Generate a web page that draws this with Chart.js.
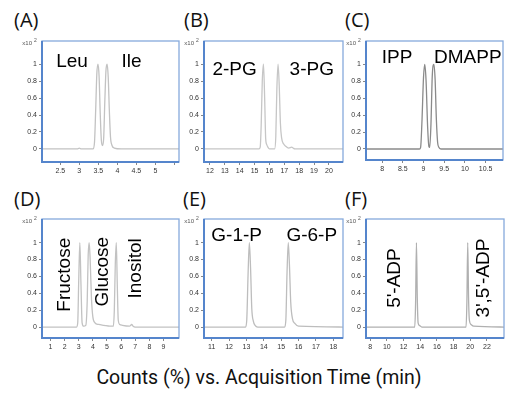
<!DOCTYPE html>
<html><head><meta charset="utf-8">
<script src="https://cdn.jsdelivr.net/npm/chart.js@4"></script>
<style>
html,body{margin:0;padding:0;background:#fff;}
body{width:530px;height:399px;position:relative;overflow:hidden;}
canvas{position:absolute;}
.ptitle{position:absolute;font-family:'Open Sans';font-size:20px;color:#111;line-height:1;white-space:nowrap;}
#xtitle{position:absolute;left:0;width:518px;top:368px;text-align:center;font-family:Roboto;font-size:19.5px;line-height:1;color:#111;}
</style></head><body>
<div class="ptitle" style="left:14px;top:10px">(A)</div>
<div class="ptitle" style="left:184px;top:10px">(B)</div>
<div class="ptitle" style="left:345px;top:10px">(C)</div>
<div class="ptitle" style="left:14px;top:189px">(D)</div>
<div class="ptitle" style="left:183px;top:189px">(E)</div>
<div class="ptitle" style="left:345px;top:189px">(F)</div>
<canvas id="cA"></canvas><canvas id="cB"></canvas><canvas id="cC"></canvas>
<canvas id="cD"></canvas><canvas id="cE"></canvas><canvas id="cF"></canvas>
<div id="xtitle">Counts (%) vs. Acquisition Time (min)</div>
<script>
// ---------- data ----------
const yTickValues = [0, 0.2, 0.4, 0.6, 0.8, 1];
const yTickLabels = ['0', '0.2', '0.4', '0.6', '0.8', '1'];

// (A) Leu / Ile
const aTime   = [2.0, 2.95, 3.0, 3.05, 3.36, 3.40, 3.43, 3.46, 3.49, 3.52, 3.55, 3.58, 3.61, 3.64, 3.67, 3.70, 3.73, 3.76, 3.79, 3.82, 3.86, 3.92, 4.1, 5.62];
const aCounts = [0, 0, 0.01, 0, 0, 0.08, 0.45, 0.88, 1.0, 0.86, 0.42, 0.1, 0.04, 0.12, 0.55, 0.92, 1.0, 0.85, 0.45, 0.14, 0.04, 0.01, 0, 0];
const aTicks = [2.5, 3, 3.5, 4, 4.5, 5, 5.5];
const aTickLabels = ['2.5', '3', '3.5', '4', '4.5', '5', ''];
const aNames = ['Leu', 'Ile'];
const aNameTime = [2.81, 4.37];
const aNameCount = [1.03, 1.03];

// (B) 2-PG / 3-PG
const bTime   = [11.6, 15.3, 15.38, 15.45, 15.52, 15.6, 15.68, 15.75, 15.82, 15.9, 16.0, 16.35, 16.43, 16.5, 16.58, 16.66, 16.74, 16.82, 16.95, 17.1, 17.3, 17.5, 17.6, 17.7, 20.95];
const bCounts = [0, 0, 0.02, 0.3, 0.8, 1.0, 0.6, 0.12, 0.05, 0.02, 0, 0, 0.15, 0.7, 1.0, 0.75, 0.3, 0.13, 0.06, 0.03, 0.01, 0.02, 0.01, 0, 0];
const bTicks = [12, 13, 14, 15, 16, 17, 18, 19, 20];
const bTickLabels = ['12', '13', '14', '15', '16', '17', '18', '19', '20'];
const bNames = ['2-PG', '3-PG'];
const bNameTime = [13.66, 18.85];
const bNameCount = [0.94, 0.94];

// (C) IPP / DMAPP
const cTime   = [7.6, 8.9, 8.93, 8.96, 9.0, 9.03, 9.06, 9.1, 9.13, 9.15, 9.18, 9.21, 9.25, 9.28, 9.31, 9.34, 9.37, 9.42, 10.92];
const cCounts = [0, 0, 0.02, 0.3, 0.85, 1.0, 0.82, 0.25, 0.03, 0.02, 0.3, 0.85, 1.0, 0.82, 0.35, 0.08, 0.02, 0, 0];
const cTicks = [8, 8.5, 9, 9.5, 10, 10.5];
const cTickLabels = ['8', '8.5', '9', '9.5', '10', '10.5'];
const cNames = ['IPP', 'DMAPP'];
const cNameTime = [8.36, 10.07];
const cNameCount = [1.08, 1.08];

// (D) Fructose / Glucose / Inositol
const dTime   = [0.4, 2.85, 2.93, 3.0, 3.08, 3.16, 3.24, 3.35, 3.5, 3.6, 3.67, 3.74, 3.81, 3.9, 4.0, 4.15, 4.4, 4.8, 5.2, 5.45, 5.52, 5.59, 5.66, 5.73, 5.8, 5.9, 6.1, 6.6, 6.75, 6.85, 7.0, 10.1];
const dCounts = [0, 0, 0.05, 0.55, 1.0, 0.5, 0.05, 0.01, 0.02, 0.3, 0.85, 1.0, 0.8, 0.35, 0.12, 0.05, 0.03, 0.02, 0.01, 0.01, 0.2, 0.75, 1.0, 0.5, 0.08, 0.03, 0.02, 0.01, 0.03, 0.01, 0, 0];
const dTicks = [1, 2, 3, 4, 5, 6, 7, 8, 9];
const dTickLabels = ['1', '2', '3', '4', '5', '6', '7', '8', '9'];
const dNames = ['Fructose', 'Glucose', 'Inositol'];
const dNameTime = [1.98, 4.67, 7.04];
const dNameCount = [0.62, 0.655, 0.695];

// (E) G-1-P / G-6-P
const eTime   = [10.56, 12.95, 13.02, 13.1, 13.17, 13.24, 13.31, 13.4, 13.5, 13.65, 15.2, 15.27, 15.34, 15.41, 15.48, 15.55, 15.65, 15.8, 16.0, 18.56];
const eCounts = [0, 0, 0.08, 0.65, 1.0, 0.7, 0.22, 0.07, 0.02, 0, 0, 0.08, 0.65, 1.0, 0.72, 0.3, 0.1, 0.04, 0.01, 0];
const eTicks = [11, 12, 13, 14, 15, 16, 17, 18];
const eTickLabels = ['11', '12', '13', '14', '15', '16', '17', '18'];
const eNames = ['G-1-P', 'G-6-P'];
const eNameTime = [12.44, 16.76];
const eNameCount = [1.08, 1.08];

// (F) 5'-ADP / 3',5'-ADP
const fTime   = [7.5, 13.35, 13.45, 13.55, 13.65, 13.75, 13.9, 14.2, 19.5, 19.6, 19.7, 19.8, 19.9, 20.1, 20.4, 24.05];
const fCounts = [0, 0, 0.3, 1.0, 0.35, 0.05, 0.02, 0, 0, 0.3, 1.0, 0.35, 0.08, 0.03, 0.01, 0];
const fTicks = [8, 10, 12, 14, 16, 18, 20, 22];
const fTickLabels = ['8', '10', '12', '14', '16', '18', '20', '22'];
const fNames = ["5'-ADP", "3',5'-ADP"];
const fNameTime = [11.0, 21.57];
const fNameCount = [0.58, 0.58];

// ---------- layout / style (page coordinates of each plot frame) ----------
const panels = [
  {id:'cA', L:42,  T:41,  R:179, B:162, xMin:2.02,  xMax:5.62,  yMin:-0.155, yMax:1.275, color:'#c2c2c2',
   time:aTime, counts:aCounts, ticks:aTicks, tickLabels:aTickLabels, names:aNames, nt:aNameTime, nc:aNameCount, rot:false, fs:19},
  {id:'cB', L:204, T:41,  R:343, B:162, xMin:11.6,  xMax:20.95, yMin:-0.155, yMax:1.275, color:'#c6c6c6',
   time:bTime, counts:bCounts, ticks:bTicks, tickLabels:bTickLabels, names:bNames, nt:bNameTime, nc:bNameCount, rot:false, fs:19},
  {id:'cC', L:366, T:41,  R:503, B:160, xMin:7.61,  xMax:10.92, yMin:-0.13,  yMax:1.275, color:'#8a8a8a',
   time:cTime, counts:cCounts, ticks:cTicks, tickLabels:cTickLabels, names:cNames, nt:cNameTime, nc:cNameCount, rot:false, fs:19},
  {id:'cD', L:42,  T:219, R:179, B:338, xMin:0.4,   xMax:10.1,  yMin:-0.13,  yMax:1.28,  color:'#c2c2c2',
   time:dTime, counts:dCounts, ticks:dTicks, tickLabels:dTickLabels, names:dNames, nt:dNameTime, nc:dNameCount, rot:true, fs:19},
  {id:'cE', L:204, T:219, R:343, B:338, xMin:10.56, xMax:18.56, yMin:-0.13,  yMax:1.28,  color:'#bdbdbd',
   time:eTime, counts:eCounts, ticks:eTicks, tickLabels:eTickLabels, names:eNames, nt:eNameTime, nc:eNameCount, rot:false, fs:19},
  {id:'cF', L:366, T:219, R:504, B:338, xMin:7.5,   xMax:24.05, yMin:-0.13,  yMax:1.28,  color:'#b0b0b0',
   time:fTime, counts:fCounts, ticks:fTicks, tickLabels:fTickLabels, names:fNames, nt:fNameTime, nc:fNameCount, rot:true, fs:19}
];

Chart.defaults.font.family = '"Liberation Sans", Arial, sans-serif';
Chart.defaults.animation = false;

const YW = 42, XH = 16, PT = 12, PR = 8, PB = 4;

const framePlugin = {
  id: 'framePlugin',
  afterDraw(chart, args, o) {
    const {ctx, chartArea: a, scales: {x, y}} = chart;
    ctx.save();
    ctx.strokeStyle = '#86aadc'; ctx.lineWidth = 1.3;
    ctx.strokeRect(a.left, a.top, a.right - a.left, a.bottom - a.top);
    ctx.strokeStyle = '#5585cc'; ctx.lineWidth = 2;
    ctx.beginPath();
    ctx.moveTo(a.left, a.top); ctx.lineTo(a.left, a.bottom); ctx.lineTo(a.right, a.bottom);
    ctx.stroke();
    ctx.fillStyle = '#555'; ctx.textBaseline = 'alphabetic';
    ctx.font = '6px "Liberation Sans"'; ctx.textAlign = 'right';
    ctx.fillText('x10', a.left - 10, a.top + 4);
    ctx.font = '5px "Liberation Sans"'; ctx.textAlign = 'left';
    ctx.fillText('2', a.left - 8, a.top + 1);
    ctx.fillStyle = '#000'; ctx.textAlign = 'center'; ctx.textBaseline = 'middle';
    ctx.font = o.fs + 'px "Liberation Sans"';
    o.names.forEach((n, i) => {
      const px = x.getPixelForValue(o.nt[i]), py = y.getPixelForValue(o.nc[i]);
      ctx.save(); ctx.translate(px, py);
      if (o.rot) ctx.rotate(-Math.PI / 2);
      ctx.fillText(n, 0, 0);
      ctx.restore();
    });
    ctx.restore();
  }
};

panels.forEach(p => {
  const cv = document.getElementById(p.id);
  const cw = (p.R - p.L) + YW + PR, ch = (p.B - p.T) + PT + XH + PB;
  cv.style.left = (p.L - YW) + 'px'; cv.style.top = (p.T - PT) + 'px';
  cv.width = cw; cv.height = ch; cv.style.width = cw + 'px'; cv.style.height = ch + 'px';
  new Chart(cv, {
    type: 'line',
    data: { datasets: [{
      data: p.time.map((t, i) => ({x: t, y: p.counts[i]})),
      borderColor: p.color, borderWidth: 1.3, pointRadius: 0,
      cubicInterpolationMode: 'monotone', fill: false
    }]},
    options: {
      responsive: false, maintainAspectRatio: false, animation: false,
      layout: { autoPadding: false, padding: {left: 0, top: PT, right: PR, bottom: PB} },
      plugins: { legend: {display: false}, tooltip: {enabled: false},
                 framePlugin: {names: p.names, nt: p.nt, nc: p.nc, rot: p.rot, fs: p.fs} },
      scales: {
        x: { type: 'linear', min: p.xMin, max: p.xMax,
             afterBuildTicks: s => { s.ticks = p.ticks.map(v => ({value: v})); },
             afterFit: s => { s.height = XH; },
             border: {display: false},
             grid: {display: true, drawOnChartArea: false, drawTicks: true, tickLength: 3, color: '#888', lineWidth: 1},
             ticks: {font: {size: 7}, color: '#333', padding: 2, maxRotation: 0, autoSkip: false,
                     callback: (v, i) => p.tickLabels[i]} },
        y: { type: 'linear', min: p.yMin, max: p.yMax,
             afterBuildTicks: s => { s.ticks = yTickValues.map(v => ({value: v})); },
             afterFit: s => { s.width = YW; },
             border: {display: false},
             grid: {display: true, drawOnChartArea: false, drawTicks: true, tickLength: 3, color: '#888', lineWidth: 1},
             ticks: {font: {size: 7}, color: '#333', padding: 2, autoSkip: false,
                     callback: (v, i) => yTickLabels[i]} }
      }
    },
    plugins: [framePlugin]
  });
});
</script>
</body></html>
